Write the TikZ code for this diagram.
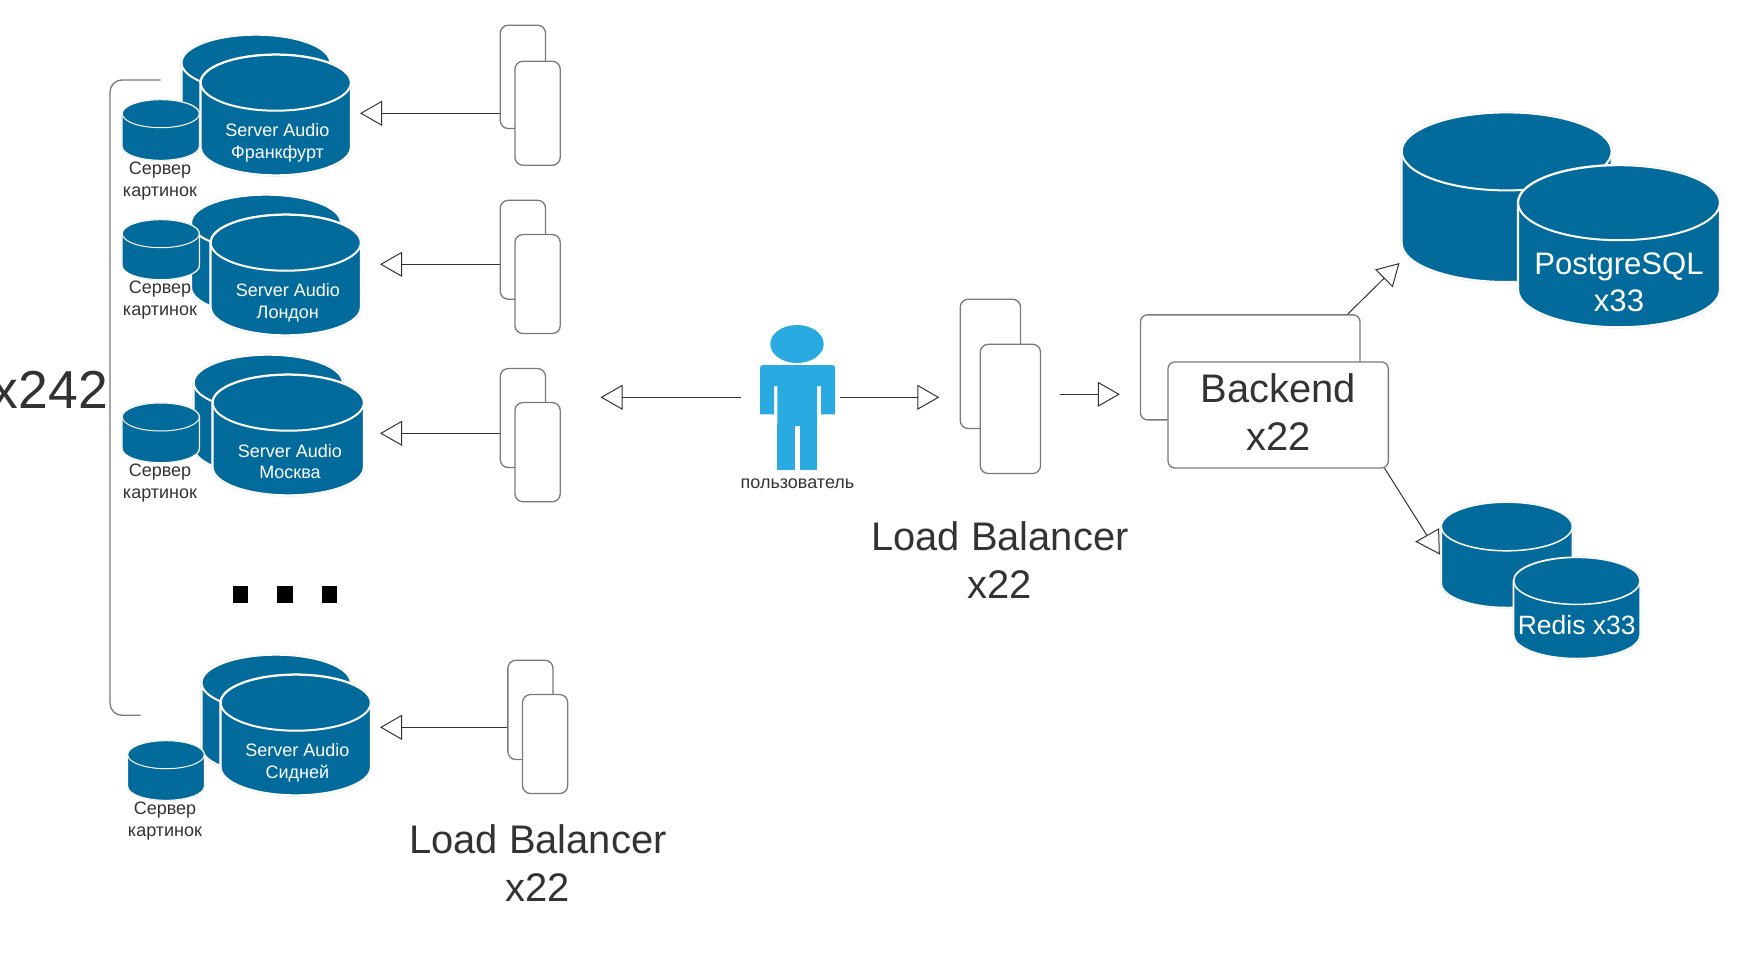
\documentclass[tikz,border=0pt]{standalone}
\usepackage{fontspec}
\setmainfont{Liberation Sans}
\usetikzlibrary{arrows.meta}
\definecolor{dbblue}{HTML}{026B9B}
\definecolor{userblue}{HTML}{29ABE2}
\definecolor{ink}{HTML}{333333}
\definecolor{boxline}{HTML}{7A7A7A}
\definecolor{rimgray}{HTML}{DEDEDE}
\newcommand{\dbcyl}[7]{%
  % #1 name, #2 left, #3 right, #4 top, #5 bottom, #6 ry, #7 line width
  \pgfmathsetmacro{\lft}{#2-0.3}
  \pgfmathsetmacro{\rgt}{#3+0.3}
  \pgfmathsetmacro{\tpp}{#4-0.3}
  \pgfmathsetmacro{\btm}{#5+0.3}
  \pgfmathsetmacro{\cxx}{(\lft+\rgt)/2}
  \pgfmathsetmacro{\rxx}{(\rgt-\lft)/2}
  \pgfmathsetmacro{\kx}{0.5523*\rxx}
  \pgfmathsetmacro{\ky}{0.5523*#6}
  \pgfmathsetmacro{\cyt}{\tpp+#6}
  \pgfmathsetmacro{\cyb}{\btm-#6}
  \pgfmathsetmacro{\rimw}{#7+0.5}
  \coordinate (#1) at (\cxx,\cyt);
  \path[draw=rimgray,line width=\rimw pt]
    (\lft,\cyt) -- (\lft,\cyb)
    .. controls (\lft,\cyb+\ky) and (\cxx-\kx,\btm) .. (\cxx,\btm)
    .. controls (\cxx+\kx,\btm) and (\rgt,\cyb+\ky) .. (\rgt,\cyb)
    -- (\rgt,\cyt)
    .. controls (\rgt,\cyt-\ky) and (\cxx+\kx,\tpp) .. (\cxx,\tpp)
    .. controls (\cxx-\kx,\tpp) and (\lft,\cyt-\ky) .. (\lft,\cyt) -- cycle;
  \path[fill=dbblue,draw=white,line width=#7pt]
    (\lft,\cyt) -- (\lft,\cyb)
    .. controls (\lft,\cyb+\ky) and (\cxx-\kx,\btm) .. (\cxx,\btm)
    .. controls (\cxx+\kx,\btm) and (\rgt,\cyb+\ky) .. (\rgt,\cyb)
    -- (\rgt,\cyt) -- cycle;
  \path[fill=dbblue,draw=white,line width=#7pt]
    (\lft,\cyt)
    .. controls (\lft,\cyt+\ky) and (\cxx-\kx,\tpp+2*#6) .. (\cxx,\tpp+2*#6)
    .. controls (\cxx+\kx,\tpp+2*#6) and (\rgt,\cyt+\ky) .. (\rgt,\cyt)
    .. controls (\rgt,\cyt-\ky) and (\cxx+\kx,\tpp) .. (\cxx,\tpp)
    .. controls (\cxx-\kx,\tpp) and (\lft,\cyt-\ky) .. (\lft,\cyt) -- cycle;
}
\tikzset{
  arrowline/.style={draw=ink,line width=1pt,-{Triangle[open,length=22pt,width=25pt,line width=1pt]}},
  plainline/.style={draw=ink,line width=1pt},
  lbbox/.style={draw=boxline,fill=white,line width=1.3pt,rounded corners=8pt,inner sep=0pt},
  bebox/.style={draw=boxline,fill=white,line width=1.3pt,rounded corners=7pt,inner sep=0pt},
  whitetext/.style={text=white,align=center,inner sep=0pt,font=\fontsize{18}{21.7}\selectfont},
  smalltext/.style={text=ink,align=center,inner sep=0pt,font=\fontsize{18}{22}\selectfont},
  bigtext/.style={text=ink,align=center,inner sep=0pt,font=\fontsize{39.9}{48}\selectfont},
  bracketline/.style={draw=boxline,line width=1.3pt,rounded corners=12pt},
  dotmark/.style={fill=black,draw=none},
}
\newcommand{\lbbox}[5]{% name, left, right, top, bottom
  \node[lbbox,anchor=north west,minimum width=#3pt-#2pt,minimum height=#5pt-#4pt,xshift=-0.4pt,yshift=0.4pt] (#1) at (#2,#4) {};
}
\begin{document}
\begin{tikzpicture}[x=1pt,y=-1pt]
\useasboundingbox (0,0) rectangle (1740,967);
\fill[white] (0,0) rectangle (1740,967);

% Frankfurt group
\dbcyl{fraB}{181.8}{330}{35}{155}{28}{2}
\dbcyl{fraS}{122.5}{199}{100}{160}{14}{1}
\dbcyl{fraF}{201}{350.5}{55}{175}{28}{2}
\node[whitetext] (fraT) at (277.5,142.7) {Server Audio\\Франкфурт};
\node[smalltext] (fraL) at (160,181.5) {Сервер\\картинок};

% London group
\dbcyl{lonB}{191.4}{340.6}{195}{315}{28}{2}
\dbcyl{lonS}{122.5}{199}{220}{279.3}{14}{1}
\dbcyl{lonF}{211}{360.5}{215}{335}{28}{2}
\node[whitetext] (lonT) at (287.8,302.9) {Server Audio\\Лондон};
\node[smalltext] (lonL) at (160,300) {Сервер\\картинок};

% Moscow group
\dbcyl{mosB}{194}{342.5}{355}{475}{28}{2}
\dbcyl{mosS}{122.5}{199}{403.3}{462.3}{14}{1}
\dbcyl{mosF}{213}{363.5}{375}{495}{28}{2}
\node[whitetext] (mosT) at (290,461.5) {Server Audio\\Москва};
\node[smalltext] (mosL) at (160,483.5) {Сервер\\картинок};

% Sydney group
\dbcyl{sydB}{201.8}{350.4}{655}{775}{28}{2}
\dbcyl{sydF}{221}{370.5}{675}{795}{28}{2}
\dbcyl{sydS}{128}{204}{741}{800}{14}{1}
\node[whitetext] (sydT) at (297.3,762.7) {Server Audio\\Сидней};
\node[smalltext] (sydL) at (165,821.3) {Сервер\\картинок};

% bracket and count
\coordinate (brTop) at (160.7,80);
\coordinate (brBot) at (140.6,715.3);
\draw[bracketline] (brTop) -- (110,80) -- (110,715.3) -- (brBot);
\node[text=ink,inner sep=0pt,font=\fontsize{53.5}{60}\selectfont,anchor=east] (count) at (108,390) {x242};

% dots
\fill[dotmark] (233,586) rectangle (248,603.3);
\fill[dotmark] (276.8,586) rectangle (292.9,603.3);
\fill[dotmark] (321.9,586) rectangle (337,603.3);

% arrow tips
\coordinate (tipA) at (360,113.3);
\coordinate (tipB) at (380,264.3);
\coordinate (tipC) at (380,433.3);
\coordinate (tipD) at (380,727.3);
\coordinate (startA) at (500,113.3);
\coordinate (startB) at (500,264.3);
\coordinate (startC) at (500,433.3);
\coordinate (startD) at (507.6,727.3);
\draw[arrowline] (startA) -- (tipA);
\draw[arrowline] (startB) -- (tipB);
\draw[arrowline] (startC) -- (tipC);
\draw[arrowline] (startD) -- (tipD);

% load balancer stacks
\lbbox{lbAb}{500}{545.3}{25}{128.3}
\lbbox{lbAf}{514.7}{560}{61}{165}
\lbbox{lbBb}{500}{545.3}{200}{299}
\lbbox{lbBf}{514.7}{560}{234.3}{333.3}
\lbbox{lbCb}{500}{545.3}{368.3}{467.3}
\lbbox{lbCf}{514.7}{560}{402.3}{501.5}
\lbbox{lbDb}{507.6}{552.7}{660}{759.3}
\lbbox{lbDf}{522.3}{567.4}{694.3}{793.3}
\node[bigtext] (lbDT) at (538,862.6) {Load Balancer\\x22};

% user
\fill[userblue] (797,344) ellipse [x radius=26.7,y radius=19];
\fill[userblue] (760,414.3) -- (760,368) .. controls (760,366) and (761,365) .. (763,365) -- (832,365) .. controls (834,365) and (835,366) .. (835,368) -- (835,414.3) -- (821,414.3) -- (821,386) -- (817,386) -- (817,426) -- (777.3,426) -- (777.3,386) -- (774,386) -- (774,414.3) -- cycle;
\fill[userblue] (777.3,424) rectangle (795,470);
\fill[userblue] (800.3,424) rectangle (817,470);
\node[smalltext] (userL) at (797.5,483.5) {пользователь};
\coordinate (userW) at (740.7,397.3);
\coordinate (userE) at (840,397.3);
\coordinate (tipLeft) at (600.5,397.3);
\coordinate (tipRight) at (939.3,397.3);
\draw[arrowline] (userW) -- (tipLeft);
\draw[arrowline] (userE) -- (tipRight);

% central load balancer
\lbbox{lbEb}{960}{1020.3}{299}{428.3}
\lbbox{lbEf}{980}{1040.3}{344}{473.3}
\node[bigtext] (lbET) at (1000,559.8) {Load Balancer\\x22};
\coordinate (lbOut) at (1060,394.3);
\coordinate (tipBe) at (1119.8,394.3);
\draw[arrowline] (lbOut) -- (tipBe);

% connectors from backend
\coordinate (beUp) at (1347.8,314);
\coordinate (tipPg) at (1399.5,263);
\coordinate (beDown) at (1384.2,467.7);
\coordinate (redisIn) at (1427,535.5);
\draw[arrowline] (beUp) -- (tipPg);
\draw[plainline] (beDown) -- (redisIn);
\draw[plainline,fill=white,line join=miter] (1416.3,541.6) -- (1438.6,529) -- (1439.3,553.8) -- cycle;

% backend
\node[bebox,anchor=north west,minimum width=219.6pt,minimum height=105pt] (beB) at (1139.8,314.2) {};
\node[bebox,anchor=north west,minimum width=220.4pt,minimum height=106pt] (beF) at (1167.3,361.3) {};
\node[bigtext] (beT) at (1278.5,412.2) {Backend\\x22};

% postgres
\dbcyl{pgB}{1402}{1611.3}{112.7}{281.7}{39}{2}
\dbcyl{pgF}{1518.4}{1719.6}{165.5}{326.9}{37.5}{2}
\node[text=white,align=center,inner sep=0pt,font=\fontsize{31.1}{36.5}\selectfont] (pgT) at (1619,282.2) {PostgreSQL\\x33};

% redis
\dbcyl{reB}{1441.6}{1572}{502.5}{607.2}{24.3}{1.5}
\dbcyl{reF}{1514}{1639.8}{557.7}{658.2}{23.5}{1.5}
\node[text=white,inner sep=0pt,font=\fontsize{26.5}{30}\selectfont] (reT) at (1576.7,625) {Redis x33};
\end{tikzpicture}
\end{document}
